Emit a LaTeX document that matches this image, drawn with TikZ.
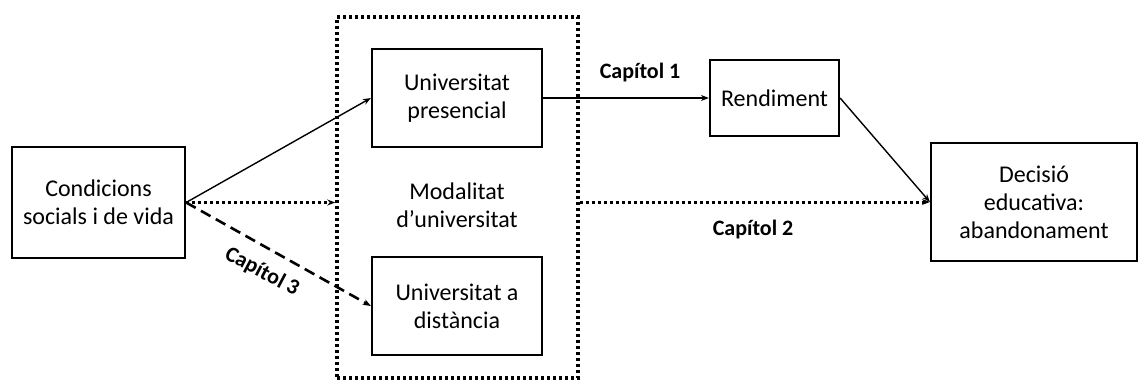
\documentclass[tikz,border=0pt]{standalone}
\usepackage{fontspec}
\setmainfont{Carlito}
\usetikzlibrary{arrows.meta}
\begin{document}
\begin{tikzpicture}[x=1pt,y=-1pt,
  box/.style={draw,line width=2.2pt,inner sep=0pt,align=center,font=\fontsize{24}{28}\selectfont},
  lbl/.style={font=\fontsize{22}{26}\selectfont\bfseries},
  arr/.style={line width=1.4pt,-{Stealth[length=8pt,width=6pt]}},
  dotline/.style={line width=3.5pt,dash pattern=on 3pt off 3pt},
  dashline/.style={line width=2.6pt,dash pattern=on 11pt off 6pt}]
\useasboundingbox (0,0) rectangle (1139,383);
\node[box,minimum width=173pt,minimum height=111pt] (cond) at (98.5,202.5) {Condicions\\socials i de vida};
\node[draw,dotline,inner sep=0pt,minimum width=241pt,minimum height=361pt] (modbox) at (457.5,197.5) {};
\node[align=center,font=\fontsize{24}{28}\selectfont] (mod) at (457,205) {Modalitat\\d’universitat};
\node[box,minimum width=170pt,minimum height=98pt] (pres) at (457,98) {Universitat\\presencial};
\node[box,minimum width=170pt,minimum height=98pt] (dist) at (457,306) {Universitat a\\distància};
\node[box,minimum width=129pt,minimum height=76pt] (rend) at (774.5,98) {Rendiment};
\node[box,minimum width=206pt,minimum height=118pt] (dec) at (1034,202) {Decisió\\educativa:\\abandonament};
\draw[arr] (cond.east) -- (pres.west);
\draw[arr,dotline,line width=3pt] (cond.east) -- (modbox.west |- cond.east);
\draw[arr,dashline] (cond.east) -- (dist.west);
\draw[arr] (pres.east) -- (rend.west);
\draw[arr] (rend.east) -- (dec.west);
\draw[arr,dotline,line width=3pt] (modbox.east |- dec.west) -- (dec.west);
\node[lbl] (c1) at (640,73) {Capítol 1};
\node[lbl] (c2) at (753,230) {Capítol 2};
\node[lbl,rotate=-28] (c3) at (262,272) {Capítol 3};
\end{tikzpicture}
\end{document}
